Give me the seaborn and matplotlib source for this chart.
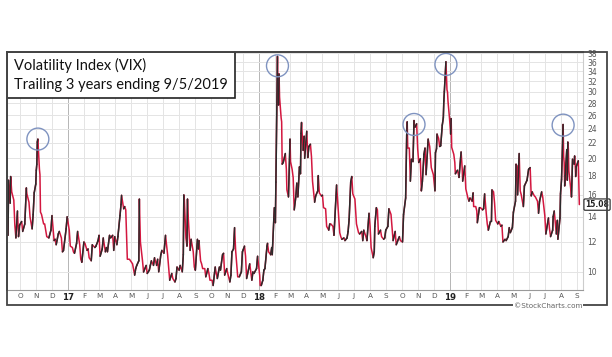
import matplotlib
matplotlib.use("Agg")
import numpy as np
import pandas as pd
import matplotlib.pyplot as plt
import matplotlib.dates as mdates
from matplotlib.collections import LineCollection
from matplotlib.patches import Rectangle
import seaborn as sns

dates = [
    '2016-09-08', '2016-09-09', '2016-09-12', '2016-09-13', '2016-09-15', '2016-09-19', '2016-09-21', '2016-09-23',
    '2016-09-26', '2016-09-28', '2016-09-30', '2016-10-04', '2016-10-06', '2016-10-10', '2016-10-13', '2016-10-14',
    '2016-10-18', '2016-10-20', '2016-10-24', '2016-10-26', '2016-10-28', '2016-10-31', '2016-11-01', '2016-11-02',
    '2016-11-03', '2016-11-04', '2016-11-07', '2016-11-08', '2016-11-09', '2016-11-11', '2016-11-15', '2016-11-17',
    '2016-11-21', '2016-11-25', '2016-11-29', '2016-12-01', '2016-12-05', '2016-12-07', '2016-12-09', '2016-12-13',
    '2016-12-15', '2016-12-19', '2016-12-21', '2016-12-23', '2016-12-28', '2016-12-30',
    '2017-01-03', '2017-01-05', '2017-01-09', '2017-01-11', '2017-01-13', '2017-01-17', '2017-01-19', '2017-01-23',
    '2017-01-25', '2017-01-27', '2017-01-31', '2017-02-02', '2017-02-06', '2017-02-08', '2017-02-10', '2017-02-14',
    '2017-02-16', '2017-02-21', '2017-02-23', '2017-02-27', '2017-03-01', '2017-03-03', '2017-03-07', '2017-03-09',
    '2017-03-13', '2017-03-15', '2017-03-17', '2017-03-21', '2017-03-23', '2017-03-27', '2017-03-29', '2017-03-31',
    '2017-04-04', '2017-04-06', '2017-04-10', '2017-04-12', '2017-04-13', '2017-04-17', '2017-04-19', '2017-04-21',
    '2017-04-24', '2017-04-26', '2017-04-28', '2017-05-02', '2017-05-04', '2017-05-08', '2017-05-10', '2017-05-12',
    '2017-05-16', '2017-05-17', '2017-05-19', '2017-05-23', '2017-05-25', '2017-05-30', '2017-06-01', '2017-06-05',
    '2017-06-07', '2017-06-09', '2017-06-13', '2017-06-15', '2017-06-19', '2017-06-21', '2017-06-23', '2017-06-27',
    '2017-06-29', '2017-07-03', '2017-07-06', '2017-07-10', '2017-07-12', '2017-07-14', '2017-07-18', '2017-07-20',
    '2017-07-24', '2017-07-26', '2017-07-28', '2017-08-01', '2017-08-03', '2017-08-07', '2017-08-09', '2017-08-10',
    '2017-08-11', '2017-08-14', '2017-08-16', '2017-08-17', '2017-08-18', '2017-08-22', '2017-08-24', '2017-08-28',
    '2017-08-30', '2017-09-01', '2017-09-05', '2017-09-07', '2017-09-08', '2017-09-11', '2017-09-13', '2017-09-15',
    '2017-09-19', '2017-09-21', '2017-09-25', '2017-09-27', '2017-09-29', '2017-10-03', '2017-10-05', '2017-10-09',
    '2017-10-11', '2017-10-13', '2017-10-17', '2017-10-19', '2017-10-23', '2017-10-25', '2017-10-27', '2017-10-31',
    '2017-11-02', '2017-11-06', '2017-11-08', '2017-11-10', '2017-11-13', '2017-11-15', '2017-11-17', '2017-11-21',
    '2017-11-24', '2017-11-28', '2017-11-30', '2017-12-01', '2017-12-04', '2017-12-06', '2017-12-08', '2017-12-12',
    '2017-12-14', '2017-12-18', '2017-12-20', '2017-12-22', '2017-12-27', '2017-12-29',
    '2018-01-02', '2018-01-03', '2018-01-05', '2018-01-08', '2018-01-10', '2018-01-12', '2018-01-16', '2018-01-17',
    '2018-01-19', '2018-01-23', '2018-01-25', '2018-01-26', '2018-01-29', '2018-01-30', '2018-02-01', '2018-02-02',
    '2018-02-05', '2018-02-06', '2018-02-07', '2018-02-08', '2018-02-09', '2018-02-12', '2018-02-13', '2018-02-14',
    '2018-02-16', '2018-02-20', '2018-02-22', '2018-02-23', '2018-02-26', '2018-02-28', '2018-03-01', '2018-03-02',
    '2018-03-05', '2018-03-07', '2018-03-09', '2018-03-12', '2018-03-14', '2018-03-16', '2018-03-19', '2018-03-21',
    '2018-03-22', '2018-03-23', '2018-03-26', '2018-03-28', '2018-03-29', '2018-04-02', '2018-04-04', '2018-04-06',
    '2018-04-09', '2018-04-11', '2018-04-13', '2018-04-17', '2018-04-19', '2018-04-23', '2018-04-24', '2018-04-26',
    '2018-04-30', '2018-05-02', '2018-05-04', '2018-05-08', '2018-05-10', '2018-05-14', '2018-05-16', '2018-05-18',
    '2018-05-22', '2018-05-24', '2018-05-29', '2018-05-31', '2018-06-04', '2018-06-06', '2018-06-08', '2018-06-12',
    '2018-06-14', '2018-06-18', '2018-06-20', '2018-06-22', '2018-06-25', '2018-06-27', '2018-06-29', '2018-07-03',
    '2018-07-06', '2018-07-10', '2018-07-12', '2018-07-16', '2018-07-18', '2018-07-20', '2018-07-24', '2018-07-26',
    '2018-07-30', '2018-08-01', '2018-08-03', '2018-08-07', '2018-08-09', '2018-08-10', '2018-08-13', '2018-08-15',
    '2018-08-17', '2018-08-21', '2018-08-23', '2018-08-27', '2018-08-29', '2018-08-31', '2018-09-04', '2018-09-06',
    '2018-09-10', '2018-09-12', '2018-09-14', '2018-09-18', '2018-09-20', '2018-09-24', '2018-09-26', '2018-09-28',
    '2018-10-02', '2018-10-04', '2018-10-08', '2018-10-10', '2018-10-11', '2018-10-12', '2018-10-15', '2018-10-17',
    '2018-10-19', '2018-10-22', '2018-10-24', '2018-10-25', '2018-10-26', '2018-10-29', '2018-10-31', '2018-11-02',
    '2018-11-05', '2018-11-07', '2018-11-09', '2018-11-12', '2018-11-14', '2018-11-16', '2018-11-20', '2018-11-23',
    '2018-11-26', '2018-11-28', '2018-11-30', '2018-12-03', '2018-12-04', '2018-12-06', '2018-12-07', '2018-12-10',
    '2018-12-12', '2018-12-14', '2018-12-17', '2018-12-19', '2018-12-20', '2018-12-21', '2018-12-24', '2018-12-26',
    '2018-12-27', '2018-12-28', '2018-12-31',
    '2019-01-02', '2019-01-03', '2019-01-04', '2019-01-08', '2019-01-10', '2019-01-11', '2019-01-15', '2019-01-17',
    '2019-01-18', '2019-01-22', '2019-01-24', '2019-01-25', '2019-01-29', '2019-01-31', '2019-02-04', '2019-02-06',
    '2019-02-08', '2019-02-12', '2019-02-14', '2019-02-15', '2019-02-19', '2019-02-21', '2019-02-22', '2019-02-26',
    '2019-02-28', '2019-03-04', '2019-03-06', '2019-03-08', '2019-03-11', '2019-03-13', '2019-03-15', '2019-03-19',
    '2019-03-21', '2019-03-22', '2019-03-25', '2019-03-27', '2019-03-29', '2019-04-02', '2019-04-04', '2019-04-08',
    '2019-04-10', '2019-04-12', '2019-04-16', '2019-04-18', '2019-04-22', '2019-04-24', '2019-04-26', '2019-04-30',
    '2019-05-02', '2019-05-06', '2019-05-07', '2019-05-09', '2019-05-10', '2019-05-13', '2019-05-15', '2019-05-17',
    '2019-05-21', '2019-05-23', '2019-05-28', '2019-05-31', '2019-06-03', '2019-06-05', '2019-06-07', '2019-06-11',
    '2019-06-13', '2019-06-17', '2019-06-19', '2019-06-21', '2019-06-25', '2019-06-27', '2019-07-01', '2019-07-03',
    '2019-07-08', '2019-07-10', '2019-07-12', '2019-07-16', '2019-07-17', '2019-07-19', '2019-07-23', '2019-07-25',
    '2019-07-26', '2019-07-30', '2019-07-31', '2019-08-02', '2019-08-05', '2019-08-06', '2019-08-07', '2019-08-08',
    '2019-08-09', '2019-08-12', '2019-08-13', '2019-08-14', '2019-08-15', '2019-08-16', '2019-08-19', '2019-08-21',
    '2019-08-23', '2019-08-26', '2019-08-27', '2019-08-28', '2019-08-29', '2019-08-30', '2019-09-03', '2019-09-04',
    '2019-09-05',
]
vix = [
    12.5, 17.5, 15.2, 17.9, 16.3, 15.5, 13.3, 12.3,
    14.5, 12.4, 13.3, 13.6, 12.8, 13.4, 16.7, 16.1,
    15.3, 14.0, 13.0, 14.2, 16.2, 17.1, 18.6, 19.3,
    22.1, 22.5, 18.7, 18.1, 14.4, 14.2, 13.4, 13.4,
    12.4, 12.3, 12.9, 14.1, 12.1, 12.2, 11.8, 12.6,
    12.8, 12.3, 11.3, 11.4, 13.0, 14.0,
    12.9, 11.7, 11.6, 11.3, 11.2, 11.9, 12.8, 11.8,
    10.8, 10.6, 12.0, 11.9, 11.4, 11.5, 10.9, 10.7,
    11.8, 11.6, 11.7, 12.1, 12.5, 11.0, 11.5, 12.3,
    11.3, 11.6, 11.3, 12.5, 12.3, 12.5, 11.4, 12.4,
    11.8, 12.4, 14.1, 15.1, 15.96, 14.7, 14.9, 14.6,
    10.8, 10.8, 10.8, 10.6, 10.5, 9.8, 10.2, 10.4,
    10.7, 15.6, 12.0, 10.7, 9.99, 10.4, 9.9, 10.1,
    10.4, 10.7, 10.4, 10.9, 10.4, 10.8, 10.0, 11.1,
    11.4, 11.2, 12.5, 11.1, 10.3, 9.5, 9.9, 9.6,
    9.4, 9.6, 10.3, 10.1, 10.4, 10.0, 11.1, 16.0,
    15.5, 12.3, 11.7, 15.6, 14.3, 11.4, 12.2, 11.3,
    10.3, 10.1, 12.2, 11.5, 12.1, 10.7, 10.5, 10.2,
    10.2, 9.7, 10.2, 9.9, 9.5, 9.5, 9.2, 10.3,
    9.9, 9.6, 10.3, 10.1, 11.1, 11.2, 9.8, 10.2,
    9.9, 9.4, 9.8, 11.3, 11.5, 13.1, 11.4, 9.7,
    9.7, 10.0, 11.3, 11.4, 11.7, 11.0, 9.6, 10.2,
    10.5, 9.5, 10.0, 9.9, 10.2, 11.0,
    9.8, 9.2, 9.2, 9.5, 10.1, 10.2, 11.7, 11.9,
    11.3, 11.1, 11.6, 11.1, 13.8, 14.8, 13.5, 17.3,
    37.3, 30.0, 27.7, 33.5, 29.1, 25.6, 25.0, 19.3,
    19.5, 20.6, 18.7, 16.5, 15.8, 19.9, 22.5, 19.6,
    18.7, 17.8, 14.6, 15.8, 17.2, 15.8, 19.0, 18.2,
    23.3, 24.9, 21.0, 22.9, 20.0, 23.6, 20.1, 21.5,
    21.8, 20.2, 17.4, 15.3, 15.9, 16.4, 18.0, 16.2,
    15.9, 15.97, 14.8, 14.7, 13.2, 12.9, 13.4, 13.4,
    13.2, 12.5, 17.0, 15.4, 12.7, 12.4, 12.2, 12.3,
    12.1, 12.3, 12.8, 13.8, 17.3, 17.9, 16.1, 15.6,
    13.4, 12.7, 12.6, 12.8, 12.1, 12.9, 12.4, 12.1,
    14.3, 13.2, 11.6, 10.9, 11.3, 13.2, 14.8, 14.6,
    12.6, 12.9, 12.4, 12.2, 12.3, 12.9, 13.2, 14.7,
    14.2, 13.1, 12.1, 12.8, 11.8, 12.2, 12.4, 12.1,
    12.0, 14.2, 15.7, 23.0, 25.0, 21.3, 21.3, 17.4,
    19.9, 19.6, 25.2, 24.2, 24.2, 24.7, 21.2, 19.5,
    19.96, 16.4, 17.4, 20.5, 21.3, 18.1, 22.5, 21.5,
    18.9, 18.5, 18.1, 16.4, 20.7, 21.2, 23.2, 22.6,
    21.5, 21.6, 24.5, 25.6, 28.4, 30.1, 36.1, 30.4,
    30.0, 28.3, 25.4,
    23.2, 25.5, 21.4, 20.5, 19.5, 18.2, 18.6, 18.1,
    17.8, 20.8, 18.9, 17.4, 19.1, 16.6, 15.7, 15.4,
    15.7, 15.4, 16.2, 14.9, 14.9, 14.5, 13.5, 14.8,
    14.8, 14.6, 14.7, 16.1, 14.3, 13.4, 12.9, 13.6,
    13.6, 16.5, 16.3, 15.2, 13.7, 13.4, 13.6, 13.2,
    13.3, 12.0, 12.2, 12.1, 12.4, 13.1, 12.7, 13.1,
    14.4, 15.4, 19.3, 19.1, 16.0, 20.6, 16.4, 16.0,
    14.9, 16.9, 17.5, 18.7, 18.9, 15.9, 16.3, 15.9,
    15.8, 15.4, 14.3, 15.4, 16.3, 15.8, 14.1, 12.6,
    13.9, 13.0, 12.4, 12.9, 14.0, 14.5, 12.6, 13.7,
    12.2, 13.9, 16.1, 17.6, 24.6, 20.2, 19.5, 16.9,
    17.97, 21.1, 17.5, 22.1, 21.2, 18.5, 16.9, 15.8,
    19.9, 19.3, 20.3, 19.35, 17.9, 19.0, 19.7, 17.3,
    15.08,
]
peak_dates = ['2016-11-04', '2018-02-05', '2018-10-24', '2018-12-24', '2019-08-05']
peak_vals = [22.5, 35.2, 24.6, 35.5, 24.5]
y_ticks = list(range(10, 40, 2))
title_lines = ['Volatility Index (VIX)', 'Trailing 3 years ending 9/5/2019']
last_label = '15.08'

sns.set_style('white')
plt.rcParams['font.family'] = ['DejaVu Sans']

df = pd.DataFrame({'date': pd.to_datetime(dates), 'vix': vix})

fig = plt.figure(figsize=(6.12, 3.57), dpi=100)
W, H = 612, 357
ax = fig.add_axes([7 / W, 1 - 290 / H, 576 / W, 238 / H])

# base line in red (falling days), rising segments overdrawn in black
sns.lineplot(data=df, x='date', y='vix', ax=ax, color='#d3173f', lw=1.1, zorder=3)
x = mdates.date2num(df['date'])
y = df['vix'].to_numpy()
segs = np.stack([np.column_stack([x[:-1], y[:-1]]), np.column_stack([x[1:], y[1:]])], axis=1)
up = y[1:] > y[:-1]
ax.add_collection(LineCollection(segs[up], colors='#2b2b2b', lw=1.1, zorder=3, capstyle='round'))

ax.set_yscale('log')
ax.set_ylim(8.95, 38.3)
ax.set_xlim(pd.Timestamp('2016-09-06'), pd.Timestamp('2019-09-12'))
ax.yaxis.set_major_locator(matplotlib.ticker.FixedLocator(y_ticks))
ax.yaxis.set_major_formatter(matplotlib.ticker.FixedFormatter([str(t) for t in y_ticks]))
ax.yaxis.set_minor_locator(matplotlib.ticker.NullLocator())
ax.yaxis.tick_right()
ax.tick_params(axis='y', length=0, labelsize=5.5, labelcolor='#555555', pad=3)

months = pd.date_range('2016-10-01', '2019-09-01', freq='MS')
mlabels = [m.strftime('%y') if m.month == 1 else m.strftime('%b')[0] for m in months]
ax.set_xticks(months)
ax.set_xticklabels(mlabels)
ax.tick_params(axis='x', length=0, labelsize=5.2, labelcolor='#555555', pad=2)
for m, lab in zip(months, ax.get_xticklabels()):
    if m.month == 1:
        lab.set_fontweight('bold')
        lab.set_color('#222222')
        lab.set_fontsize(6.2)
ax.set_xlabel('')
ax.set_ylabel('')

ax.grid(True, color='#e4e4e4', lw=0.7, zorder=0)
for m, gl in zip(months, ax.xaxis.get_gridlines()):
    if m.month == 1:
        gl.set_color('#b5b5b5')

for side in ['top', 'left']:
    ax.spines[side].set_color('#444444')
    ax.spines[side].set_linewidth(1.2)
ax.spines['right'].set_color('#cccccc')
ax.spines['bottom'].set_color('#999999')

# peak circles
ax.scatter(pd.to_datetime(peak_dates), peak_vals, s=250, facecolors='none',
           edgecolors='#7f93c0', linewidths=1.0, zorder=4, clip_on=False)

# title box
ax.add_patch(Rectangle((0, 1 - 46 / 238), 228 / 576, 46 / 238, transform=ax.transAxes,
                       fc='white', ec='#222222', lw=1.2, zorder=5))
ax.text(7 / 576, (290 - 65) / 238, title_lines[0], transform=ax.transAxes, fontsize=10.5,
        family='Lato', va='center', ha='left', color='#111111', zorder=6)
ax.text(7 / 576, (290 - 85) / 238, title_lines[1], transform=ax.transAxes, fontsize=10.5,
        family='Lato', va='center', ha='left', color='#111111', zorder=6)

# last value tag
ax.annotate(last_label, xy=(1.0, vix[-1]), xycoords=ax.get_yaxis_transform(),
            xytext=(1.5, 0), textcoords='offset points', va='center', ha='left',
            fontsize=5.5, fontweight='bold', color='#222222', annotation_clip=False,
            bbox=dict(boxstyle='round,pad=0.15', fc='white', ec='#222222', lw=0.8))

# outer frame and watermark
fig.patches.append(Rectangle((7 / W, 1 - 305 / H), 600 / W, 253 / H, transform=fig.transFigure,
                             fill=False, ec='#444444', lw=1.3))
fig.text(548 / W, 1 - 306.5 / H, '\u00a9StockCharts.com', ha='center', va='center', fontsize=5.2,
         color='#666666', bbox=dict(fc='white', ec='none', pad=0.6))

fig.savefig('out.png', dpi=100)
